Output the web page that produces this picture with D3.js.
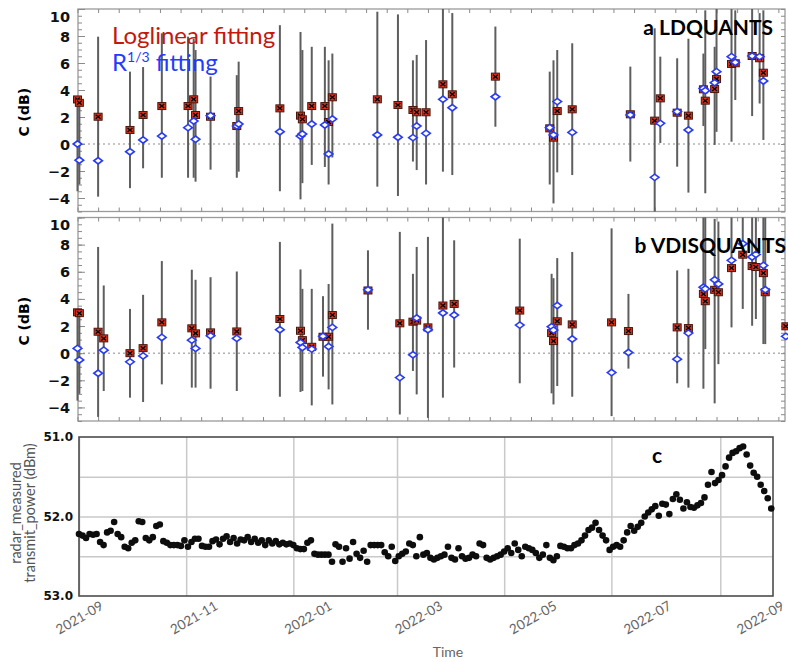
<!DOCTYPE html>
<html>
<head>
<meta charset="utf-8">
<script src="https://d3js.org/d3.v7.min.js"></script>
<style>
  body { margin: 0; background: #fff; }
</style>
</head>
<body>
<script>
// panel a: LDQUANTS (loglinear fit, R^1/3 fit, error bar low/high in dB)
var ldDates = ["2021-09-01","2021-09-02","2021-09-12","2021-09-29","2021-10-06","2021-10-16","2021-10-30","2021-11-02","2021-11-03","2021-11-11","2021-11-25","2021-11-26","2021-12-18","2021-12-29","2021-12-30","2022-01-04","2022-01-11","2022-01-13","2022-01-15","2022-02-08","2022-02-19","2022-02-27","2022-03-01","2022-03-06","2022-03-15","2022-03-20","2022-04-12","2022-05-11","2022-05-13","2022-05-15","2022-05-23","2022-06-23","2022-07-06","2022-07-09","2022-07-18","2022-07-24","2022-08-01","2022-08-02","2022-08-07","2022-08-08","2022-08-16","2022-08-18","2022-08-27","2022-08-31","2022-09-02"];
var ldLoglin = [3.3,3.05,2.02,1.04,2.15,2.81,2.81,3.31,2.15,2.02,1.33,2.44,2.64,2.1,1.83,2.81,2.81,1.63,3.46,3.31,2.89,2.52,2.35,2.35,4.42,3.68,4.99,1.16,0.47,2.44,2.57,2.2,1.73,3.38,2.32,2.1,4.05,3.21,4.07,4.81,5.93,5.98,6.52,6.35,5.28];
var ldR13 = [0.0,-1.2,-1.24,-0.57,0.3,0.59,1.21,1.7,0.35,2.1,1.33,1.48,0.91,0.59,0.74,1.48,1.41,-0.74,1.85,0.67,0.5,0.47,1.33,0.79,3.31,2.69,3.5,1.21,0.67,3.14,0.86,2.15,-2.47,1.53,2.4,1.04,4.12,3.95,4.54,5.36,6.47,6.05,6.52,6.47,4.67];
var ldLow = [-3.5,-3.0,-3.9,-3.27,-1.8,-2.5,-2.5,-2.5,-2.79,-1.9,-2.5,-2.05,-3.5,-4.1,-2.9,-1.55,-1.7,-3.0,-1.0,-3.16,-3.85,-1.3,-1.93,-3.0,-2.05,-2.3,1.28,-3.0,-4.4,-2.1,-2.3,-1.3,-5.0,0.07,-1.68,-3.6,1.33,-3.65,-0.07,0.9,0.17,3.26,2.07,3.0,0.3];
var ldHigh = [3.4,3.1,7.95,5.36,5.7,8.2,7.95,7.8,6.96,5.0,5.1,6.1,8.8,8.3,6.96,7.2,7.2,6.2,6.7,9.8,9.6,6.2,6.6,7.7,10,9.7,8.7,5.36,6.2,6.96,7.46,5.73,8.57,6.47,6.35,7.8,6.7,9.9,7.2,10,10,9.9,10,9.7,9.9];

// panel b: VDISQUANTS
var vdDates = ["2021-09-01","2021-09-02","2021-09-12","2021-09-15","2021-09-29","2021-10-06","2021-10-16","2021-11-01","2021-11-03","2021-11-11","2021-11-25","2021-12-18","2021-12-29","2021-12-30","2022-01-04","2022-01-10","2022-01-13","2022-01-15","2022-02-03","2022-02-20","2022-02-27","2022-03-01","2022-03-07","2022-03-15","2022-03-21","2022-04-25","2022-05-12","2022-05-13","2022-05-15","2022-05-23","2022-06-13","2022-06-22","2022-07-18","2022-07-24","2022-08-01","2022-08-02","2022-08-07","2022-08-09","2022-08-16","2022-08-22","2022-08-27","2022-08-29","2022-09-02","2022-09-03","2022-09-14"];
var vdLoglin = [3.01,2.95,1.58,1.09,0.0,0.37,2.27,1.83,1.46,1.53,1.6,2.52,1.65,0.96,0.47,1.21,1.21,2.81,4.62,2.2,2.32,2.4,1.9,3.51,3.63,3.14,1.48,0.89,2.35,2.12,2.27,1.63,1.9,1.85,4.37,3.83,4.67,4.49,6.27,7.26,6.42,6.35,5.9,4.49,1.98];
var vdR13 = [0.35,-0.5,-1.48,0.22,-0.64,-0.2,1.16,0.96,0.35,1.28,1.09,1.73,0.79,0.42,0.3,1.25,0.49,1.9,4.67,-1.8,-0.12,2.59,1.73,2.96,2.81,2.07,1.95,1.7,3.51,1.04,-1.43,0.05,-0.44,1.48,4.86,4.74,5.41,5.1,6.84,8.07,7.09,7.28,6.47,4.67,1.24];
var vdLow = [-3.5,-3.0,-4.7,-2.79,-3.28,-3.6,-2.3,-2.54,-2.54,-2.62,-2.79,-3.21,-2.86,-2.79,-3.85,-1.73,-2.67,-3.78,1.73,-4.52,-1.31,-3.04,-4.77,-3.28,-1.06,-2.22,-2.96,-3.78,-2.42,-3.21,-4.64,-1.14,-2.22,-2.54,-2.62,0.3,-3.7,-0.81,1.9,3.26,2.02,2.52,0.67,0.67,1.98];
var vdHigh = [3.1,3.0,7.83,4.99,3.26,4.3,6.79,6.15,5.41,5.6,6.02,8.2,6.17,4.74,4.74,4.2,5.1,9.55,7.58,8.94,5.85,7.83,8.57,10,8.32,8.44,5.85,5.53,7.01,7.46,9.2,4.37,6.1,6.22,10,10,9.9,9.7,10,10,10,10,10,10,1.98];

// panel c: radar measured transmit power (dBm), one value every 2 days from powerStart
var powerStart = "2021-09-01";
var powerStepDays = 2;
var power = [
  52.22,52.24,52.27,52.22,52.23,52.22,52.32,52.36,52.2,52.18,
  52.07,52.22,52.26,52.38,52.4,52.33,52.3,52.06,52.07,52.27,
  52.3,52.26,52.12,52.1,52.31,52.33,52.36,52.36,52.36,52.37,
  52.3,52.38,52.32,52.28,52.28,52.37,52.38,52.38,52.31,52.29,
  52.35,52.28,52.25,52.32,52.27,52.34,52.29,52.3,52.26,52.32,
  52.28,52.33,52.3,52.36,52.3,52.34,52.31,52.35,52.33,52.35,
  52.34,52.36,52.4,52.41,52.41,52.33,52.3,52.47,52.48,52.48,
  52.48,52.48,52.57,52.35,52.38,52.57,52.4,52.53,52.32,52.47,
  52.52,52.43,52.57,52.36,52.36,52.36,52.36,52.45,52.5,52.38,
  52.56,52.5,52.47,52.44,52.34,52.36,52.5,52.26,52.48,52.46,
  52.52,52.54,52.52,52.5,52.48,52.38,52.52,52.54,52.4,52.5,
  52.53,52.52,52.48,52.5,52.34,52.36,52.52,52.54,52.52,52.5,
  52.48,52.44,52.4,52.46,52.34,52.42,52.5,52.38,52.4,52.42,
  52.46,52.52,52.48,52.36,52.52,52.55,52.5,52.37,52.38,52.4,
  52.4,52.36,52.34,52.3,52.24,52.17,52.14,52.08,52.17,52.24,
  52.3,52.42,52.38,52.36,52.38,52.3,52.2,52.12,52.18,52.13,
  52.08,52.0,51.95,51.91,51.87,51.99,51.84,51.85,51.97,51.78,
  51.72,51.79,51.9,51.82,51.88,51.89,51.86,51.83,51.76,51.6,
  51.44,51.58,51.54,51.48,51.37,51.26,51.2,51.18,51.14,51.12,
  51.22,51.36,51.45,51.5,51.6,51.68,51.77,51.9
];

var fitTicks = [-4, -2, 0, 2, 4, 6, 8, 10];
var powerTicks = [51, 52, 53];
var powerGrid = [51.5, 52, 52.5];

var parseDate = d3.utcParse("%Y-%m-%d");
var tStart = parseDate("2021-09-01"),
    tEnd = parseDate("2022-09-01");

var svg = d3.select("body").append("svg")
    .attr("width", 788)
    .attr("height", 662);
svg.append("rect").attr("width", 788).attr("height", 662).attr("fill", "#fff");

var plotLeft = 78, plotRight = 785;
// shared date axis of the figure
var xTop = d3.scaleUtc().domain([tStart, tEnd]).range([77.5, 761.5]);

var boldNum = "'DejaVu Sans', sans-serif";
var soft = "Lato, 'Open Sans', sans-serif";

function greyTicks(sel) {
    sel.select(".domain").remove();
    sel.selectAll("line").attr("stroke", "#8a8a8a").attr("stroke-width", 1);
}

function fitPanel(top, bottom, dates, loglin, r13, low, high, title, titleRight, titleBase) {
    var y = d3.scaleLinear().domain([-5, 10]).range([bottom, top]);
    var g = svg.append("g");

    g.append("rect")
        .attr("x", plotLeft).attr("y", top)
        .attr("width", plotRight - plotLeft).attr("height", bottom - top)
        .attr("fill", "none").attr("stroke", "#9a9a9a").attr("stroke-width", 1.3);

    // minor ticks all round
    var minor = d3.range(-5, 10.01, 0.5);
    g.append("g").attr("transform", "translate(" + plotLeft + ",0)")
        .call(d3.axisLeft(y).tickValues(minor).tickSize(-4).tickFormat(""))
        .call(greyTicks);
    g.append("g").attr("transform", "translate(" + plotLeft + ",0)")
        .call(d3.axisLeft(y).tickValues(fitTicks).tickSize(-7).tickFormat(""))
        .call(greyTicks);
    g.append("g").attr("transform", "translate(" + plotRight + ",0)")
        .call(d3.axisRight(y).tickValues(minor).tickSize(-4).tickFormat(""))
        .call(greyTicks);
    var xt = d3.utcDay.range(tStart, xTop.invert(plotRight), 11);
    g.append("g").attr("transform", "translate(0," + bottom + ")")
        .call(d3.axisBottom(xTop).tickValues(xt).tickSize(-4).tickFormat(""))
        .call(greyTicks);
    g.append("g").attr("transform", "translate(0," + top + ")")
        .call(d3.axisTop(xTop).tickValues(xt).tickSize(-4).tickFormat(""))
        .call(greyTicks);

    // tick labels
    var lab = g.append("g").attr("transform", "translate(" + plotLeft + ",0)")
        .call(d3.axisLeft(y).tickValues(fitTicks).tickSize(0).tickPadding(8));
    lab.select(".domain").remove();
    lab.selectAll("text")
        .attr("font-family", boldNum).attr("font-weight", "bold")
        .attr("font-size", 14.5).attr("fill", "#111")
        .attr("dy", function(d) { return d == 10 ? "0.85em" : "0.35em"; });

    g.append("text")
        .attr("transform", "translate(29," + ((top + bottom) / 2 + 2) + ") rotate(-90)")
        .attr("text-anchor", "middle")
        .attr("font-family", boldNum).attr("font-weight", "bold").attr("font-size", 14)
        .text("C (dB)");

    // zero line
    g.append("line")
        .attr("x1", plotLeft).attr("x2", plotRight)
        .attr("y1", y(0)).attr("y2", y(0))
        .attr("stroke", "#8a8a8a").attr("stroke-dasharray", "2,3");

    var rows = dates.map(function(d, i) {
        return {t: parseDate(d), a: loglin[i], b: r13[i], lo: low[i], hi: high[i]};
    });

    g.selectAll(".bar").data(rows).enter().append("line")
        .attr("x1", function(d) { return xTop(d.t); })
        .attr("x2", function(d) { return xTop(d.t); })
        .attr("y1", function(d) { return y(d.lo); })
        .attr("y2", function(d) { return y(d.hi); })
        .attr("stroke", "#5e5e5e").attr("stroke-width", 2);

    var red = g.selectAll(".red").data(rows).enter().append("g")
        .attr("transform", function(d) { return "translate(" + xTop(d.t) + "," + y(d.a) + ")"; });
    red.append("rect")
        .attr("x", -4).attr("y", -3.5).attr("width", 8).attr("height", 7)
        .attr("fill", "#d8321f").attr("stroke", "#4a160c").attr("stroke-width", 1);
    red.append("path")
        .attr("d", "M-2.4,-2L2.4,2M-2.4,2L2.4,-2")
        .attr("stroke", "#000").attr("stroke-width", 1.3);

    g.selectAll(".blue").data(rows).enter().append("path")
        .attr("transform", function(d) { return "translate(" + xTop(d.t) + "," + y(d.b) + ")"; })
        .attr("d", "M-4.3,0L0,-3.2L4.3,0L0,3.2Z")
        .attr("fill", "#fff").attr("stroke", "#2a3cf0").attr("stroke-width", 1.6);

    g.append("text")
        .attr("x", titleRight).attr("y", titleBase)
        .attr("text-anchor", "end")
        .attr("font-family", soft).attr("font-weight", "bold").attr("font-size", 21)
        .attr("fill", "#000")
        .text(title);
}

fitPanel(9, 211.5, ldDates, ldLoglin, ldR13, ldLow, ldHigh, "a LDQUANTS", 773, 35);
fitPanel(217.5, 421, vdDates, vdLoglin, vdR13, vdLow, vdHigh, "b VDISQUANTS", 786, 253);

// legend
svg.append("text")
    .attr("x", 112).attr("y", 44)
    .attr("font-family", soft).attr("font-size", 24)
    .attr("fill", "#c4180d")
    .text("Loglinear fitting");
var leg2 = svg.append("text")
    .attr("x", 112).attr("y", 71)
    .attr("font-family", soft).attr("font-size", 24)
    .attr("fill", "#1f3cff");
leg2.append("tspan").text("R");
leg2.append("tspan").attr("font-size", 14).attr("dy", -9).text("1/3");
leg2.append("tspan").attr("dy", 9).text(" fitting");

// panel c
var cLeft = 79, cRight = 773, cTop = 437, cBottom = 596;
var xc = d3.scaleUtc().domain([tStart, parseDate("2022-10-01")]).range([cLeft, cRight]);
var yc = d3.scaleLinear().domain([51, 53]).range([cTop, cBottom]);

var gc = svg.append("g");
gc.append("g").attr("transform", "translate(0," + cBottom + ")")
    .call(d3.axisBottom(xc).ticks(d3.utcMonth.every(2)).tickSize(-(cBottom - cTop)).tickFormat(""))
    .call(function(s) {
        s.select(".domain").remove();
        s.selectAll("line").attr("stroke", "#c9c9c9").attr("stroke-width", 1.5);
    });
gc.append("g").attr("transform", "translate(" + cLeft + ",0)")
    .call(d3.axisLeft(yc).tickValues(powerGrid).tickSize(-(cRight - cLeft)).tickFormat(""))
    .call(function(s) {
        s.select(".domain").remove();
        s.selectAll("line").attr("stroke", "#c9c9c9").attr("stroke-width", 1.5);
    });
gc.append("rect")
    .attr("x", cLeft).attr("y", cTop)
    .attr("width", cRight - cLeft).attr("height", cBottom - cTop)
    .attr("fill", "none").attr("stroke", "#4d4d4d").attr("stroke-width", 1.6);

var pts = power.map(function(v, i) {
    return {t: d3.utcDay.offset(parseDate(powerStart), i * powerStepDays), v: v};
});
gc.selectAll(".dot").data(pts).enter().append("circle")
    .attr("cx", function(d) { return xc(d.t); })
    .attr("cy", function(d) { return yc(d.v); })
    .attr("r", 3.3)
    .attr("fill", "#0d0d0d");

var yl = gc.append("g").attr("transform", "translate(" + cLeft + ",0)")
    .call(d3.axisLeft(yc).tickValues(powerTicks).tickFormat(d3.format(".1f")).tickSize(0).tickPadding(6));
yl.select(".domain").remove();
yl.selectAll("text")
    .attr("font-family", boldNum).attr("font-weight", "bold")
    .attr("font-size", 12).attr("fill", "#111");

gc.append("text")
    .attr("x", 657).attr("y", 463)
    .attr("text-anchor", "middle")
    .attr("font-family", soft).attr("font-weight", "bold").attr("font-size", 21)
    .text("c");

// date labels along the bottom
var months = d3.utcMonth.range(tStart, d3.utcDay.offset(tEnd, 1), 2);
var xl = svg.append("g").attr("transform", "translate(0," + cBottom + ")")
    .call(d3.axisBottom(xTop).tickValues(months).tickSize(0).tickFormat(d3.utcFormat("%Y-%m")));
xl.select(".domain").remove();
xl.selectAll("text")
    .attr("font-family", soft).attr("font-size", 13.5).attr("fill", "#666")
    .attr("text-anchor", "middle")
    .attr("dy", "0.35em")
    .attr("transform", function(d, i) {
        return "translate(" + (i == months.length - 1 ? -3 : 0) + ",19) rotate(-30)";
    });

svg.append("text")
    .attr("x", 448).attr("y", 657)
    .attr("text-anchor", "middle")
    .attr("font-family", soft).attr("font-size", 14).attr("fill", "#666")
    .text("Time");

var ylab = svg.append("text")
    .attr("transform", "translate(0,513) rotate(-90)")
    .attr("text-anchor", "middle")
    .attr("font-family", soft).attr("font-size", 14.5).attr("fill", "#555");
ylab.append("tspan").attr("x", 0).attr("y", 21).text("radar_measured");
ylab.append("tspan").attr("x", 0).attr("y", 35).text("transmit_power (dBm)");
</script>
</body>
</html>
